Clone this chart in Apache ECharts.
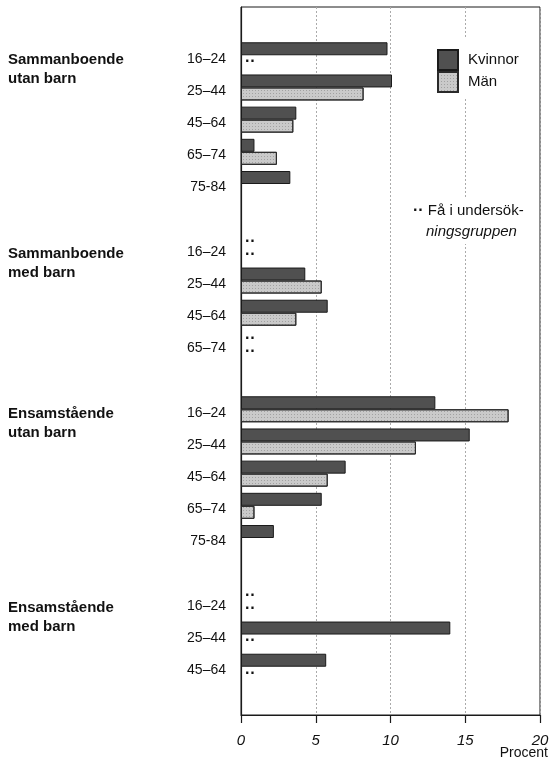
<!DOCTYPE html>
<html>
<head>
<meta charset="utf-8">
<script src="https://cdn.jsdelivr.net/npm/echarts@6/dist/echarts.min.js"></script>
<style>
html,body{margin:0;padding:0;background:#fff;}
#chart{width:551px;height:762px;}
</style>
</head>
<body>
<div id="chart"></div>
<script>
// ---- data ----
const FEW = '..'; // "Få i undersökningsgruppen"
const groups = ['Sammanboende\nutan barn', 'Sammanboende\nmed barn', 'Ensamstående\nutan barn', 'Ensamstående\nmed barn'];
const ages = [
  ['16–24', '25–44', '45–64', '65–74', '75-84'],
  ['16–24', '25–44', '45–64', '65–74'],
  ['16–24', '25–44', '45–64', '65–74', '75-84'],
  ['16–24', '25–44', '45–64']
];
const kvinnor = [
  [9.8, 10.1, 3.7, 0.9, 3.3],
  [FEW, 4.3, 5.8, FEW],
  [13.0, 15.3, 7.0, 5.4, 2.2],
  [FEW, 14.0, 5.7]
];
const man = [
  [FEW, 8.2, 3.5, 2.4, null],
  [FEW, 5.4, 3.7, FEW],
  [17.9, 11.7, 5.8, 0.9, null],
  [FEW, FEW, FEW]
];
const xTicks = [0, 5, 10, 15, 20];
const seriesNames = ['Kvinnor', 'Män'];
const noteLine1 = 'Få i undersök-';
const noteLine2 = 'ningsgruppen';
const xName = 'Procent';

// ---- build category rows (with blank spacer rows) ----
const cats = [''];
const groupCats = [''];
const kData = [null];
const mData = [null];
function toItem(v) {
  if (v === FEW) {
    return {
      value: 0,
      itemStyle: { color: 'transparent', borderWidth: 0 },
      label: { show: true, formatter: '··', position: 'right', distance: 4,
               fontSize: 16, fontWeight: 'bold', color: '#111', fontFamily: 'Liberation Sans' }
    };
  }
  return v;
}
groups.forEach((g, gi) => {
  ages[gi].forEach((a, ai) => {
    cats.push(a);
    groupCats.push(ai === 0 ? g : '');
    kData.push(toItem(kvinnor[gi][ai]));
    mData.push(toItem(man[gi][ai]));
  });
  cats.push('');
  groupCats.push('');
  kData.push(null);
  mData.push(null);
});

const FONT = 'Liberation Sans';
const chart = echarts.init(document.getElementById('chart'), null, { renderer: 'canvas' });
chart.setOption({
  animation: false,
  backgroundColor: '#fff',
  textStyle: { fontFamily: FONT, color: '#111' },
  grid: { left: 241, right: 11, top: 7, bottom: 47, show: true, borderColor: '#1a1a1a', borderWidth: 1,
          containLabel: false, outerBoundsMode: 'none' },
  xAxis: {
    type: 'value', min: xTicks[0], max: xTicks[xTicks.length - 1], interval: 5,
    axisLine: { show: true, lineStyle: { color: '#1a1a1a', width: 1.2 } },
    axisTick: { show: true, length: 8, lineStyle: { color: '#1a1a1a', width: 1.2 } },
    axisLabel: { fontSize: 15, fontStyle: 'italic', color: '#111', margin: 18, fontFamily: FONT },
    splitLine: { show: true, lineStyle: { color: '#aaa', type: [2, 2], width: 1 } },
    name: xName, nameLocation: 'end', nameGap: 8, nameMoveOverlap: false,
    nameTextStyle: { fontSize: 14, color: '#111', align: 'right', verticalAlign: 'top', lineHeight: 76, fontFamily: FONT }
  },
  yAxis: [
    {
      type: 'category', data: cats, inverse: true,
      axisLine: { show: true, lineStyle: { color: '#1a1a1a', width: 1.2 } },
      axisTick: { show: false },
      axisLabel: {
        interval: 0, color: '#111', margin: 15, verticalAlign: 'top',
        formatter: v => v ? '{a|' + v + '}' : '',
        rich: { a: { fontSize: 14, lineHeight: 7, fontFamily: FONT, color: '#111' } }
      },
      splitLine: { show: false }
    },
    {
      type: 'category', data: groupCats, inverse: true, position: 'left',
      axisLine: { show: false }, axisTick: { show: false }, splitLine: { show: false },
      axisLabel: {
        interval: 0, align: 'left', margin: 233, verticalAlign: 'top',
        formatter: v => {
          if (!v) return '';
          const p = v.split('\n');
          return '{a|' + p[0] + '}\n{b|' + p[1] + '}';
        },
        rich: {
          a: { fontSize: 15, fontWeight: 'bold', lineHeight: 10, fontFamily: FONT, color: '#111' },
          b: { fontSize: 15, fontWeight: 'bold', lineHeight: 28, fontFamily: FONT, color: '#111' }
        }
      }
    }
  ],
  legend: {
    data: seriesNames, orient: 'vertical', left: 427, top: 37,
    padding: [12, 10, 4, 10], itemWidth: 20, itemHeight: 20, itemGap: 0, icon: 'rect',
    backgroundColor: '#fff',
    textStyle: { fontSize: 15, color: '#111', padding: [0, 0, 0, 5], fontFamily: FONT }
  },
  series: [
    {
      name: seriesNames[0], type: 'bar', yAxisIndex: 0, data: kData,
      barWidth: 13, barGap: '0%',
      itemStyle: { color: '#505050', borderColor: '#1a1a1a', borderWidth: 1 }
    },
    {
      name: seriesNames[1], type: 'bar', yAxisIndex: 0, data: mData,
      barWidth: 13, barGap: '0%',
      itemStyle: {
        color: '#cacaca', borderColor: '#2a2a2a', borderWidth: 1,
        decal: { symbol: 'rect', symbolSize: 1, dashArrayX: [1, 2], dashArrayY: [1, 2], color: 'rgba(90,90,90,0.35)', rotation: 0 }
      }
    }
  ],
  graphic: [
    { type: 'rect', left: 409, top: 198, shape: { width: 124, height: 46 }, style: { fill: '#fff' }, z: 50 },
    { type: 'text', left: 413, top: 203, z: 51,
      style: { text: '{d|··} ' + noteLine1, fontSize: 15, fontFamily: FONT, fill: '#111',
               rich: { d: { fontSize: 16, fontWeight: 'bold', fontFamily: FONT } } } },
    { type: 'text', left: 426, top: 224, z: 51,
      style: { text: noteLine2, fontSize: 15, fontStyle: 'italic', fontFamily: FONT, fill: '#111' } }
  ]
});
</script>
</body>
</html>
